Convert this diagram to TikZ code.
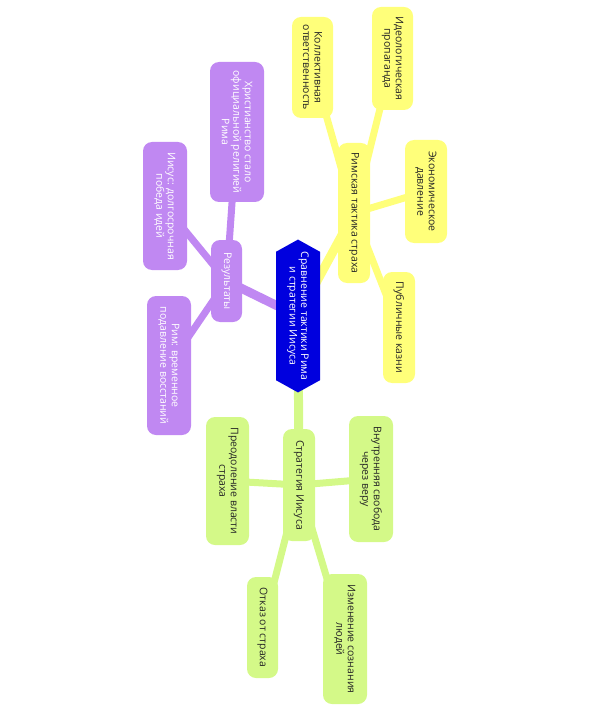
\documentclass[tikz,border=0pt]{standalone}
\usepackage{fontspec}
\setmainfont{Open Sans}
\usetikzlibrary{shapes.symbols, backgrounds}
\definecolor{hubblue}{RGB}{0,0,222}
\definecolor{fearyellow}{RGB}{255,255,122}
\definecolor{resultviolet}{RGB}{192,136,242}
\definecolor{waygreen}{RGB}{212,249,136}

\begin{document}
\begin{tikzpicture}[x=1pt, y=-1pt,
  box/.style={rounded corners=9pt, rotate=-90, inner sep=0pt, align=center,
              text=black!85, font=\fontsize{10.5}{11.5}\selectfont},
  hub/.style={signal, signal to=west and east, signal pointer angle=122,
              rotate=-90, fill=hubblue, text=white, inner sep=0pt, align=center,
              font=\fontsize{10.5}{11.5}\selectfont},
  link/.style={line width=#1, line cap=round}]
  \useasboundingbox (0,0) rectangle (591,711);

  % centre
  \node[hub, minimum width=150pt, minimum height=44pt] (hub) at (298,316)
    {Сравнение тактики Рима\\и стратегии Иисуса};

  % Rome's tactics
  \node[box, fill=fearyellow, minimum width=140pt, minimum height=32pt] (rome) at (354,213)
    {Римская тактика страха};
  \foreach \n/\x/\y/\w/\h/\t in {
      collective/312.5/67.5/101/41/{Коллективная\\ответственность},
      ideology/392.5/58.5/103/41/{Идеологическая\\пропаганда},
      economy/426/191.5/103/42/{Экономическое\\давление},
      executions/399/327.5/111/32/{Публичные казни}}{
    \node[box, fill=fearyellow, minimum width=\w pt, minimum height=\h pt] (\n) at (\x,\y) {\t};
  }

  % results
  \node[box, fill=resultviolet, text=white, minimum width=82pt, minimum height=31pt] (results) at (226.5,281)
    {Результаты};
  \foreach \n/\x/\y/\w/\h/\t in {
      church/237/132/140/54/{Христианство стало\\официальной религией\\Рима},
      ideas/165/206/128/44/{Иисус: долгосрочная\\победа идей},
      revolts/169/365.5/139/44/{Рим: временное\\подавление восстаний}}{
    \node[box, fill=resultviolet, text=white, minimum width=\w pt, minimum height=\h pt] (\n) at (\x,\y) {\t};
  }

  % Jesus' strategy
  \node[box, fill=waygreen, minimum width=112pt, minimum height=32pt] (jesus) at (299,485)
    {Стратегия Иисуса};
  \foreach \n/\x/\y/\w/\h/\t in {
      overcome/227.5/481/128/43/{Преодоление власти\\страха},
      freedom/371/479/126/44/{Внутренняя свобода\\через веру},
      refusal/262.5/627.5/101/31/{Отказ от страха},
      mind/345/639/130/44/{Изменение сознания\\людей}}{
    \node[box, fill=waygreen, minimum width=\w pt, minimum height=\h pt] (\n) at (\x,\y) {\t};
  }

  \begin{scope}[on background layer]
    \draw[link=9pt, fearyellow] (hub.center) -- (rome.center);
    \draw[link=9pt, resultviolet] (hub.center) -- (results.center);
    \draw[link=9pt, waygreen] (hub.center) -- (jesus.center);
    \foreach \c in {collective, ideology, economy, executions}
      \draw[link=7pt, fearyellow] (rome.center) -- (\c.center);
    \foreach \c in {church, ideas, revolts}
      \draw[link=7pt, resultviolet] (results.center) -- (\c.center);
    \foreach \c in {overcome, freedom, refusal, mind}
      \draw[link=7pt, waygreen] (jesus.center) -- (\c.center);
  \end{scope}
\end{tikzpicture}
\end{document}
